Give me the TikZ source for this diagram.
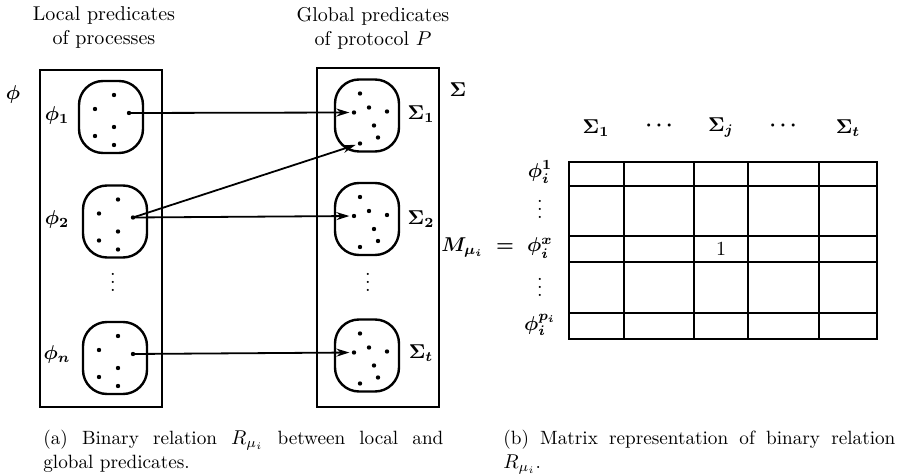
\documentclass[tikz,border=0pt]{standalone}
\usetikzlibrary{arrows.meta}
\tikzset{
  box/.style={draw, line width=1pt, inner sep=0, minimum width=61pt},
  blob/.style={draw, line width=1.2pt, rounded corners=12pt, minimum width=32pt, minimum height=36pt, inner sep=0},
  dot/.style={circle, fill, inner sep=0, minimum size=2.2pt},
  arr/.style={line width=0.9pt, -{Stealth[length=6.5pt,width=4pt]}, shorten >=1pt},
  lab/.style={inner sep=0, font=\boldmath},
  vd/.style={inner sep=0},
  head/.style={inner sep=0, align=center},
  grid/.style={line width=0.9pt},
  captext/.style={inner sep=0, anchor=north west, font=\fontsize{9.6}{12}\selectfont}
}
\newcommand\myvdots{\vbox{\baselineskip4pt\lineskiplimit0pt\hbox{.}\hbox{.}\hbox{.}}}
\newcommand\lblob[3]{%
  \node[blob] (#1) at (#2,#3) {};
  \begin{scope}[shift={(#2,#3)}]
    \node[dot] (#1a) at (3,-22) {};
    \node[dot] (#1b) at (-16,-8) {};
    \node[dot] (#1s) at (18,-4) {};
    \node[dot] (#1d) at (3,10) {};
    \node[dot] (#1e) at (-16,19) {};
    \node[dot] (#1f) at (3,28) {};
  \end{scope}}
\newcommand\rblob[3]{%
  \node[blob] (#1) at (#2,#3) {};
  \begin{scope}[shift={(#2,#3)}]
    \node[dot] (#1a) at (-7,-22) {};
    \node[dot] (#1t) at (-13,-3) {};
    \node[dot] (#1c) at (2,-8) {};
    \node[dot] (#1d) at (20,-4) {};
    \node[dot] (#1e) at (7,10) {};
    \node[dot] (#1f) at (11,22) {};
    \node[dot] (#1u) at (-7,28) {};
  \end{scope}}
\begin{document}
\begin{tikzpicture}[x=0.5pt, y=-0.5pt]
\useasboundingbox (0,0) rectangle (916,475);

% headings
\node[head] (hl) at (104,28) {Local predicates\\of processes};
\node[head] (hr) at (373,28) {Global predicates\\of protocol $P$};

% boxes
\node[box, minimum height=168.5pt] (lbox) at (101,238.5) {};
\node[box, minimum height=169.5pt] (rbox) at (378,237.5) {};

\node[lab] (phi) at (13,95) {$\phi$};
\node[lab] (sig) at (458,90) {$\Sigma$};

% left blobs
\lblob{p1}{111}{117}
\lblob{p2}{115}{221.5}
\lblob{pn}{115}{358}
\node[lab] (lp1) at (57,116) {$\phi_1$};
\node[lab] (lp2) at (57,220) {$\phi_2$};
\node[lab] (lpn) at (57,355) {$\phi_n$};
\node[vd] (lvd) at (113,282) {\myvdots};

% right blobs
\rblob{s1}{367}{115.5}
\rblob{s2}{367}{219}
\rblob{st}{367}{355.5}
\node[lab] (ls1) at (421,114) {$\Sigma_1$};
\node[lab] (ls2) at (421,219) {$\Sigma_2$};
\node[lab] (lst) at (421,353) {$\Sigma_t$};
\node[vd] (rvd) at (368,282) {\myvdots};

% arrows
\draw[arr] (p1s.center) -- (s1t);
\draw[arr] (p2s.center) -- (s1u);
\draw[arr] (p2s.center) -- (s2t);
\draw[arr] (pns.center) -- (stt);

% matrix
\node[lab, anchor=west] (M) at (441,248) {$M_{\mu_i}\;=$};
\draw[grid] (569,162) rectangle (877,339);
\foreach \xx in {624,694,748,819} \draw[grid] (\xx,162) -- (\xx,339);
\foreach \yy in {186,236,262,313} \draw[grid] (569,\yy) -- (877,\yy);

\node[lab] (c1) at (596,128) {$\Sigma_1$};
\node[lab] (c2) at (659,126) {$\cdots$};
\node[lab] (c3) at (721,128) {$\Sigma_j$};
\node[lab] (c4) at (783,126) {$\cdots$};
\node[lab] (c5) at (848,128) {$\Sigma_t$};

\node[lab] (r1) at (540,172) {$\phi_i^1$};
\node[vd] (r2) at (540,209) {\myvdots};
\node[lab] (r3) at (540,248) {$\phi_i^x$};
\node[vd] (r4) at (540,287) {\myvdots};
\node[lab] (r5) at (540,325) {$\phi_i^{p_i}$};
\node[inner sep=0] (one) at (721,249) {1};

% captions
\node[captext] (capa) at (43,430) {\parbox[t]{200pt}{(a) Binary relation $R_{\mu_i}$ between local and\linebreak global predicates.}};
\node[captext] (capb) at (503,430) {\parbox[t]{196pt}{(b) Matrix representation of binary relation\linebreak $R_{\mu_i}$.}};
\end{tikzpicture}
\end{document}
